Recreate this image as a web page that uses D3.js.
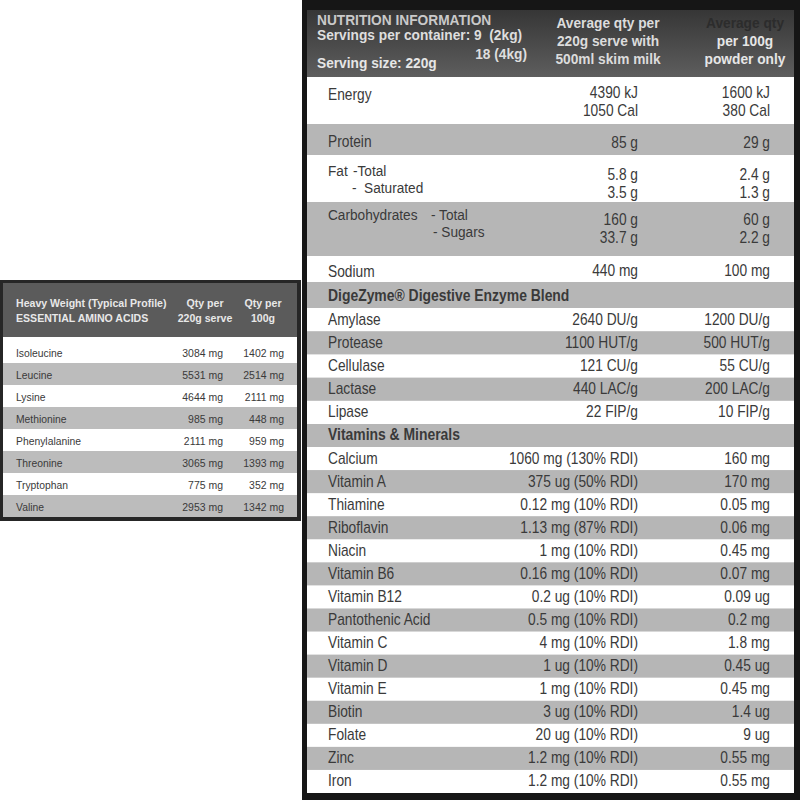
<!DOCTYPE html>
<html>
<head>
<meta charset="utf-8">
<script src="https://cdn.jsdelivr.net/npm/d3@7"></script>
<style>
  body { margin: 0; background: #fff; }
  svg { display: block; }
  text { font-family: "Liberation Sans", Arial, sans-serif; white-space: pre; }
</style>
</head>
<body>
<div id="chart"></div>
<script>
// ---- left panel: amino acid profile
const aminoHead = [["Heavy Weight (Typical Profile)", "ESSENTIAL AMINO ACIDS"], ["Qty per", "220g serve"], ["Qty per", "100g"]];
const aminoNames = ["Isoleucine", "Leucine", "Lysine", "Methionine", "Phenylalanine", "Threonine", "Tryptophan", "Valine"];
const aminoServe = ["3084 mg", "5531 mg", "4644 mg", "985 mg", "2111 mg", "3065 mg", "775 mg", "2953 mg"];
const amino100g = ["1402 mg", "2514 mg", "2111 mg", "448 mg", "959 mg", "1393 mg", "352 mg", "1342 mg"];

// ---- right panel: nutrition information
const infoLines = ["NUTRITION INFORMATION", "Servings per container: 9  (2kg)", "18 (4kg)", "Serving size: 220g"];
const colHead = [["Average qty per", "220g serve with", "500ml skim milk"], ["Average qty", "per 100g", "powder only"]];

const macroNames = ["Energy", "Protein", "Fat", "Carbohydrates", "Sodium"];
const macroSubs = [[], [], ["-Total", "-  Saturated"], ["- Total", "- Sugars"], []];
const macroServe = [["4390 kJ", "1050 Cal"], ["85 g"], ["5.8 g", "3.5 g"], ["160 g", "33.7 g"], ["440 mg"]];
const macro100g = [["1600 kJ", "380 Cal"], ["29 g"], ["2.4 g", "1.3 g"], ["60 g", "2.2 g"], ["100 mg"]];

const enzymeTitle = "DigeZyme® Digestive Enzyme Blend";
const enzymeNames = ["Amylase", "Protease", "Cellulase", "Lactase", "Lipase"];
const enzymeServe = ["2640 DU/g", "1100 HUT/g", "121 CU/g", "440 LAC/g", "22 FIP/g"];
const enzyme100g = ["1200 DU/g", "500 HUT/g", "55 CU/g", "200 LAC/g", "10 FIP/g"];

const vitaminTitle = "Vitamins & Minerals";
const vitaminNames = ["Calcium", "Vitamin A", "Thiamine", "Riboflavin", "Niacin", "Vitamin B6", "Vitamin B12",
  "Pantothenic Acid", "Vitamin C", "Vitamin D", "Vitamin E", "Biotin", "Folate", "Zinc", "Iron"];
const vitaminServe = ["1060 mg (130% RDI)", "375 ug (50% RDI)", "0.12 mg (10% RDI)", "1.13 mg (87% RDI)",
  "1 mg (10% RDI)", "0.16 mg (10% RDI)", "0.2 ug (10% RDI)", "0.5 mg (10% RDI)", "4 mg (10% RDI)",
  "1 ug (10% RDI)", "1 mg (10% RDI)", "3 ug (10% RDI)", "20 ug (10% RDI)", "1.2 mg (10% RDI)", "1.2 mg (10% RDI)"];
const vitamin100g = ["160 mg", "170 mg", "0.05 mg", "0.06 mg", "0.45 mg", "0.07 mg", "0.09 ug", "0.2 mg",
  "1.8 mg", "0.45 ug", "0.45 mg", "1.4 ug", "9 ug", "0.55 mg", "0.55 mg"];

const W = 800, H = 800;
const GREY = "#b6b6b6", INK = "#3a3a3a";

const svg = d3.select("#chart").append("svg")
  .attr("width", W).attr("height", H);

const defs = svg.append("defs");
const grad = defs.append("linearGradient").attr("id", "hdr")
  .attr("x1", 0).attr("y1", 0).attr("x2", 0).attr("y2", 1);
grad.append("stop").attr("offset", "0%").attr("stop-color", "#363636");
grad.append("stop").attr("offset", "100%").attr("stop-color", "#5e5e5e");

// text helper: narrow look is done with a horizontal squeeze
function put(g, x, y, s, o = {}) {
  return g.append("text")
    .attr("transform", `translate(${x},${y}) scale(${o.sx || 0.86},1)`)
    .attr("text-anchor", o.anchor || "start")
    .attr("font-size", o.size || 16)
    .attr("font-weight", o.bold ? "bold" : "normal")
    .attr("fill", o.fill || INK)
    .text(s);
}

// ================= left panel
const left = svg.append("g");
left.append("rect").attr("x", 0).attr("y", 280).attr("width", 301).attr("height", 241).attr("fill", "#262626");
left.append("rect").attr("x", 3).attr("y", 283).attr("width", 294).attr("height", 54).attr("fill", "#5b5b5b");
left.append("rect").attr("x", 3).attr("y", 337).attr("width", 294).attr("height", 180).attr("fill", "#fff");

const aY = d3.scaleBand().domain(aminoNames).range([341, 517]);
const aCol = [16, 223, 284];

left.selectAll(".arow").data(aminoNames).enter().append("rect")
  .attr("x", 3).attr("width", 294)
  .attr("y", d => aY(d)).attr("height", aY.bandwidth())
  .attr("fill", (d, i) => i % 2 ? "#bcbcbc" : "none");

const aHeadX = [16, 205, 263];
aminoHead.forEach((lines, c) => lines.forEach((s, k) =>
  put(left, aHeadX[c], 307 + k * 15, s, {size: 11.5, bold: true, sx: 0.92, fill: "#e8e8e8", anchor: c ? "middle" : "start"})));

aminoNames.forEach((d, i) => {
  const y = aY(d) + 16;
  put(left, aCol[0], y, d, {size: 11.5, sx: 0.9});
  put(left, aCol[1], y, aminoServe[i], {size: 11.5, sx: 0.91, anchor: "end"});
  put(left, aCol[2], y, amino100g[i], {size: 11.5, sx: 0.91, anchor: "end"});
});

// ================= right panel
const right = svg.append("g");
const X0 = 307, X1 = 794;
right.append("rect").attr("x", 302).attr("y", 0).attr("width", 498).attr("height", 800).attr("fill", "#161616");
right.append("rect").attr("x", X0).attr("y", 10).attr("width", X1 - X0).attr("height", 67).attr("fill", "url(#hdr)");
right.append("rect").attr("x", X0).attr("y", 77).attr("width", X1 - X0).attr("height", 716).attr("fill", "#fff");

const labX = 328, col2 = 638, col3 = 770;

// header
put(right, 317, 25, infoLines[0], {size: 14, bold: true, sx: 0.98, fill: "#c9c9c9"});
put(right, 317, 40, infoLines[1], {size: 14, bold: true, sx: 0.98, fill: "#dedede"});
put(right, 527, 59, infoLines[2], {size: 14, bold: true, sx: 0.98, fill: "#dedede", anchor: "end"});
put(right, 317, 68, infoLines[3], {size: 14, bold: true, sx: 0.98, fill: "#e6e6e6"});
colHead[0].forEach((s, k) => put(right, 608, 28 + k * 18, s, {size: 14, bold: true, sx: 0.98, fill: "#dcdcdc", anchor: "middle"}));
colHead[1].forEach((s, k) => put(right, 745, 28 + k * 18, s, {size: 14, bold: true, sx: 0.98, fill: k ? "#e6e6e6" : "#2c2c2c", anchor: "middle"}));

// macro rows: layout only (heights / baseline offsets)
const macroH = [47, 31, 47, 54, 26];
const labDy = [23, 23, 21, 18, 21];
const valDy = [21, 24, 25, 23, 20];
const subX = [[], [], [353, 352], [431, 433], []];
const macroTop = [77, ...d3.cumsum(macroH).map(v => 77 + v)];

macroNames.forEach((d, i) => {
  const top = macroTop[i];
  if (i % 2) right.append("rect").attr("x", X0).attr("width", X1 - X0)
    .attr("y", top).attr("height", macroH[i]).attr("fill", GREY);
  put(right, labX, top + labDy[i], d, macroSubs[i].length ? {size: 15, sx: 0.91} : {});
  macroSubs[i].forEach((s, k) => put(right, subX[i][k], top + labDy[i] + k * 17, s, {size: 15, sx: 0.91}));
  macroServe[i].forEach((s, k) => put(right, col2, top + valDy[i] + k * 18, s, {anchor: "end"}));
  macro100g[i].forEach((s, k) => put(right, col3, top + valDy[i] + k * 18, s, {anchor: "end"}));
});

// section helper
function section(title, top, hh, names, serve, per100, bottom) {
  right.append("rect").attr("x", X0).attr("width", X1 - X0)
    .attr("y", top).attr("height", hh).attr("fill", GREY);
  put(right, labX, top + hh - 7, title, {bold: true, sx: 0.87});
  const y = d3.scaleBand().domain(names).range([top + hh, bottom]);
  right.selectAll(null).data(names).enter().append("rect")
    .attr("x", X0).attr("width", X1 - X0)
    .attr("y", d => y(d)).attr("height", y.bandwidth())
    .attr("fill", (d, i) => i % 2 ? GREY : "none");
  names.forEach((d, i) => {
    const b = y(d) + 16.5;
    put(right, labX, b, d);
    put(right, col2, b, serve[i], {anchor: "end"});
    put(right, col3, b, per100[i], {anchor: "end"});
  });
}

section(enzymeTitle, macroTop[5], 26, enzymeNames, enzymeServe, enzyme100g, 424);
section(vitaminTitle, 424, 23, vitaminNames, vitaminServe, vitamin100g, 793);
</script>
</body>
</html>
